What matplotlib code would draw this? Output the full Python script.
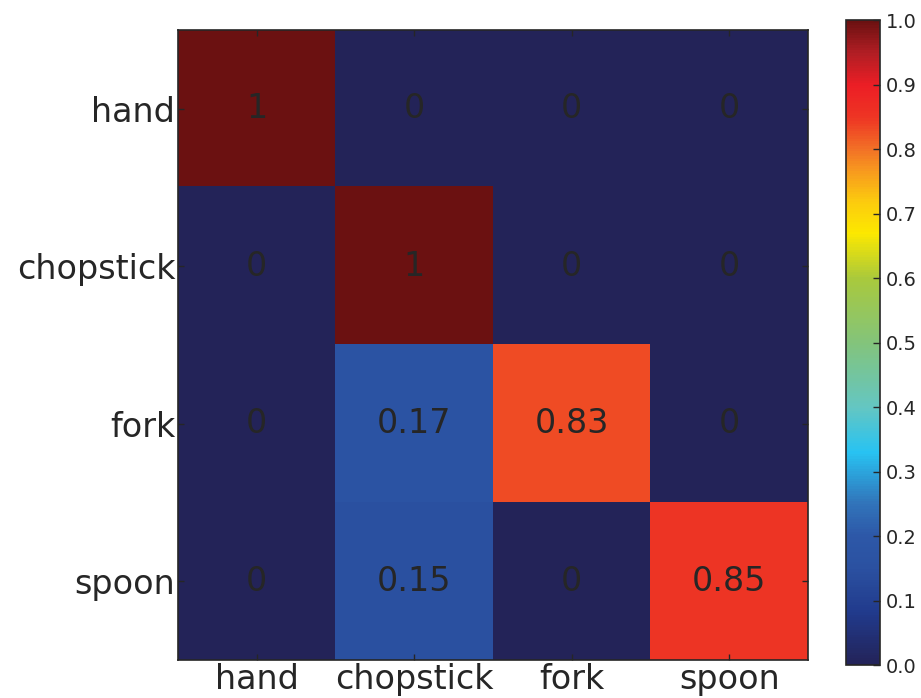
import numpy as np
import matplotlib
matplotlib.use("Agg")
import matplotlib.pyplot as plt
from matplotlib.colors import LinearSegmentedColormap

plt.rcParams["font.family"] = ["DejaVu Sans"]

labels = ["hand", "chopstick", "fork", "spoon"]
matrix = np.array([
    [1.00, 0.00, 0.00, 0.00],
    [0.00, 1.00, 0.00, 0.00],
    [0.00, 0.17, 0.83, 0.00],
    [0.00, 0.15, 0.00, 0.85],
])
cell_text = [
    ["1", "0", "0", "0"],
    ["0", "1", "0", "0"],
    ["0", "0.17", "0.83", "0"],
    ["0", "0.15", "0", "0.85"],
]

# rainbow-style colormap from dark navy through cyan/yellow to dark red
stops = [
    (0.00, "#232358"),
    (0.08, "#213A8C"),
    (0.15, "#2B51A1"),
    (0.20, "#2D58A8"),
    (0.25, "#3174BA"),
    (0.33, "#28C3F2"),
    (0.40, "#64C6C2"),
    (0.50, "#83C47B"),
    (0.60, "#A9C93C"),
    (0.67, "#FCE800"),
    (0.72, "#FCCB0E"),
    (0.77, "#F7961F"),
    (0.80, "#F27226"),
    (0.85, "#EE3524"),
    (0.90, "#EC1E25"),
    (0.95, "#B21E24"),
    (1.00, "#6B1111"),
]
cmap = LinearSegmentedColormap.from_list("conf", stops)

text_color = "#262626"
fig = plt.figure(figsize=(9.21, 6.98), dpi=100)
ax = fig.add_axes([0.1933, 0.0544, 0.684, 0.9026])
cax = fig.add_axes([0.9186, 0.047, 0.0369, 0.924])

im = ax.imshow(matrix, cmap=cmap, vmin=0, vmax=1, interpolation="nearest",
               aspect="auto")
for i in range(len(labels)):
    for j in range(len(labels)):
        ax.text(j, i, cell_text[i][j], ha="center", va="center",
                fontsize=24, color=text_color)

ax.set_xticks(range(len(labels)))
ax.set_yticks(range(len(labels)))
ax.set_xticklabels(labels, fontsize=24, color=text_color)
ax.set_yticklabels(labels, fontsize=24, color=text_color)
ax.tick_params(direction="in", length=4, width=1, color=text_color, pad=2,
               top=True, right=True)
for s in ax.spines.values():
    s.set_color(text_color)
    s.set_linewidth(1.2)

cb = fig.colorbar(im, cax=cax, ticks=np.linspace(0, 1, 11))
cb.ax.set_yticklabels([f"{v:.1f}" for v in np.linspace(0, 1, 11)],
                      fontsize=14, color=text_color)
cb.ax.tick_params(direction="in", length=5, width=1, color=text_color, pad=4)
cb.outline.set_edgecolor(text_color)
cb.outline.set_linewidth(1.2)

fig.savefig("out.png", dpi=100)
